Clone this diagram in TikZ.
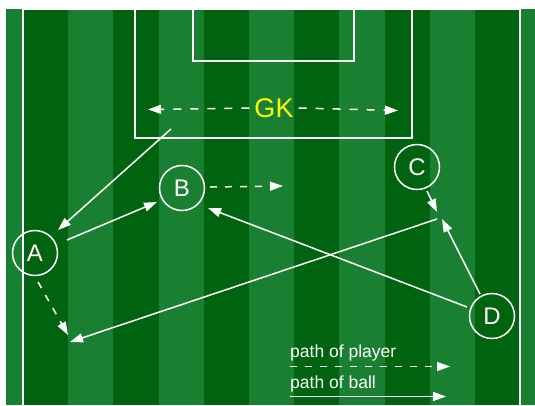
\documentclass[tikz,border=0pt]{standalone}
\usepackage{fontspec}
\setmainfont{Liberation Sans}
\usetikzlibrary{arrows.meta}
\definecolor{darkg}{RGB}{0,99,16}
\definecolor{lightg}{RGB}{25,128,50}
\definecolor{gkyellow}{RGB}{255,255,0}
\begin{document}
\begin{tikzpicture}[x=1pt,y=-1pt,
  fieldline/.style={draw=white, line width=1.3pt},
  player/.style={circle, draw=white, line width=1.5pt, minimum size=45pt, inner sep=0pt, text=white, font=\fontsize{24}{24}\selectfont},
  ball/.style={draw=white, line width=1.5pt, -{Triangle[length=13pt,width=9pt]}},
  run/.style={ball, dash pattern=on 7pt off 8pt},
  legendtext/.style={anchor=base west, inner sep=0pt, text=white, font=\fontsize{17.5}{17.5}\selectfont},
]
\useasboundingbox (0,0) rectangle (535,405);
\fill[white] (0,0) rectangle (535,405);
\fill[lightg] (6,8.5) rectangle (535,405);
\foreach \k in {0,2,4,6,8,10} {
  \fill[darkg] ({23+45.2*\k},9) rectangle ({23+45.2*(\k+1)},405);
}
% field lines
\draw[fieldline] (23,405) -- (23,9.5) -- (520,9.5) -- (520,405);
\draw[fieldline] (135,9.5) -- (135,138) -- (412,138) -- (412,9.5);
\draw[fieldline] (193,9.5) -- (193,61) -- (354,61) -- (354,9.5);

% players
\node[player] (A) at (35,253) {A};
\node[player] (B) at (182,188) {B};
\node[player] (C) at (417,167) {C};
\node[player] (D) at (492,316) {D};

% goalkeeper
\node[text=gkyellow, inner sep=5pt, font=\fontsize{27}{27}\selectfont] (gk) at (274,108) {GK};
\coordinate (gkl) at (148,109.5);
\coordinate (gkr) at (398,110.5);
\draw[run, dash pattern=on 8pt off 9pt] (gk.west) -- (gkl);
\draw[run, dash pattern=on 8pt off 9pt] (gk.east) -- (gkr);

% path coordinates
\coordinate (p1s) at (171,129); \coordinate (p1e) at (58,230);
\coordinate (p2s) at (67,240);  \coordinate (p2e) at (157,202);
\coordinate (p3s) at (210,187); \coordinate (p3e) at (283,186);
\coordinate (p4s) at (38,282);  \coordinate (p4e) at (68,335);
\coordinate (p5s) at (437,219); \coordinate (p5e) at (70,342);
\coordinate (p6s) at (467,307); \coordinate (p6e) at (208,208);
\coordinate (p7s) at (480,294); \coordinate (p7e) at (442,219);
\coordinate (p8s) at (427,191); \coordinate (p8e) at (437,212);

\draw[ball] (p1s) -- (p1e);
\draw[ball] (p2s) -- (p2e);
\draw[run]  (p3s) -- (p3e);
\draw[run]  (p4s) -- (p4e);
\draw[ball] (p5s) -- (p5e);
\draw[ball] (p6s) -- (p6e);
\draw[ball] (p7s) -- (p7e);
\draw[ball] (p8s) -- (p8e);

% legend
\node[legendtext] (lp) at (290,357.5) {path of player};
\node[legendtext] (lb) at (290,388) {path of ball};
\coordinate (lp1) at (290,366.5); \coordinate (lp2) at (450,366.5);
\coordinate (lb1) at (290,396.5); \coordinate (lb2) at (446,396.5);
\draw[run] (lp1) -- (lp2);
\draw[ball] (lb1) -- (lb2);
\end{tikzpicture}
\end{document}
